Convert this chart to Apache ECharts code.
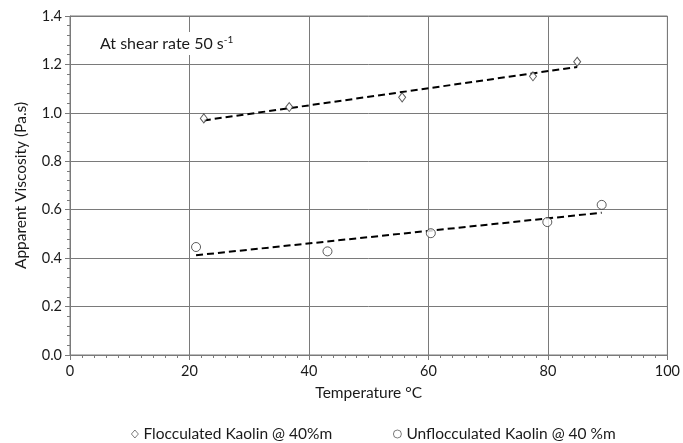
<!DOCTYPE html>
<html><head><meta charset="utf-8">
<script src="https://cdn.jsdelivr.net/npm/echarts@6/dist/echarts.min.js"></script>
<style>html,body{margin:0;padding:0;background:#fff}#c{width:683px;height:443px}</style>
</head><body><div id="c"></div>
<script>
const flocT = [22.4, 36.7, 55.6, 77.5, 84.9];
const flocV = [0.977, 1.024, 1.064, 1.151, 1.211];
const unflocT = [21.1, 43.1, 60.4, 79.9, 89.0];
const unflocV = [0.446, 0.428, 0.503, 0.549, 0.620];
const xTicks = [0, 20, 40, 60, 80, 100];
const yTicks = [0, 0.2, 0.4, 0.6, 0.8, 1.0, 1.2, 1.4];
const nameFloc = 'Flocculated Kaolin @ 40%m';
const nameUnfloc = 'Unflocculated Kaolin @ 40 %m';

function pairs(xs, ys) { return xs.map((x, i) => [x, ys[i]]); }
function trend(xs, ys) {
  const n = xs.length;
  const mx = xs.reduce((a, b) => a + b, 0) / n;
  const my = ys.reduce((a, b) => a + b, 0) / n;
  let sxy = 0, sxx = 0;
  for (let i = 0; i < n; i++) { sxy += (xs[i] - mx) * (ys[i] - my); sxx += (xs[i] - mx) ** 2; }
  const b = sxy / sxx, a = my - b * mx;
  const x0 = Math.min(...xs), x1 = Math.max(...xs);
  return [[x0, a + b * x0], [x1, a + b * x1]];
}
const FONT = 'Lato';
const gridCol = '#7a7a7a';
const txt = '#1a1a1a';
const chart = echarts.init(document.getElementById('c'), null, {renderer: 'canvas'});
chart.setOption({
  animation: false,
  textStyle: {fontFamily: FONT},
  grid: {left: 70, right: 13, top: 16, bottom: 88, show: true, borderColor: gridCol, borderWidth: 1},
  title: {
    text: 'At shear rate 50 s{sup|-1}',
    left: 96, top: 32, padding: [3, 4], backgroundColor: '#fff',
    textStyle: {fontFamily: FONT, fontSize: 16, fontWeight: 'normal', color: txt,
      rich: {sup: {fontFamily: FONT, fontSize: 10, verticalAlign: 'top', padding: [0,0,8,0], color: txt}}}
  },
  xAxis: {
    type: 'value', min: 0, max: 100, interval: 20,
    name: 'Temperature °C', nameLocation: 'middle', nameGap: 30,
    nameTextStyle: {fontFamily: FONT, fontSize: 15.5, color: txt},
    axisLine: {show: true, lineStyle: {color: gridCol, width: 1}},
    axisTick: {show: true, inside: false, length: 5, lineStyle: {color: gridCol}},
    minorTick: {show: true, splitNumber: 10, length: 3, lineStyle: {color: gridCol}},
    axisLabel: {fontFamily: FONT, fontSize: 14.5, color: txt, margin: 9,
      formatter: v => xTicks.includes(v) ? String(v) : ''},
    splitLine: {show: true, lineStyle: {color: gridCol, width: 1}}
  },
  yAxis: {
    type: 'value', min: 0, max: 1.4, interval: 0.2,
    name: 'Apparent Viscosity (Pa.s)', nameLocation: 'middle', nameGap: 41, nameRotate: 90,
    nameTextStyle: {fontFamily: FONT, fontSize: 15.5, color: txt},
    axisLine: {show: true, lineStyle: {color: gridCol, width: 1}},
    axisTick: {show: true, inside: false, length: 5, lineStyle: {color: gridCol}},
    minorTick: {show: true, splitNumber: 5, length: 3, lineStyle: {color: gridCol}},
    axisLabel: {fontFamily: FONT, fontSize: 14.5, color: txt, margin: 8,
      formatter: v => yTicks.some(t => Math.abs(t - v) < 1e-9) ? v.toFixed(1) : ''},
    splitLine: {show: true, lineStyle: {color: gridCol, width: 1}}
  },
  legend: [
    {data: [nameFloc], left: 126, top: 421, itemWidth: 7, itemHeight: 8, itemGap: 4,
      itemStyle: {borderWidth: 0.8}, textStyle: {fontFamily: FONT, fontSize: 15.5, color: txt}},
    {data: [nameUnfloc], left: 388, top: 421, itemWidth: 8, itemHeight: 8, itemGap: 4,
      itemStyle: {borderWidth: 0.8}, textStyle: {fontFamily: FONT, fontSize: 15.5, color: txt}}
  ],
  series: [
    {name: 'trendF', type: 'line', data: trend(flocT, flocV), symbol: 'none', silent: true,
      lineStyle: {color: '#000', width: 2, type: [7, 4]}, z: 2},
    {name: 'trendU', type: 'line', data: trend(unflocT, unflocV), symbol: 'none', silent: true,
      lineStyle: {color: '#000', width: 2, type: [7, 4]}, z: 2},
    {name: nameFloc, type: 'scatter', data: pairs(flocT, flocV), symbol: 'diamond', symbolSize: [7, 9],
      itemStyle: {color: '#fff', borderColor: '#333', borderWidth: 1}, z: 3},
    {name: nameUnfloc, type: 'scatter', data: pairs(unflocT, unflocV), symbol: 'circle', symbolSize: 9,
      itemStyle: {color: '#fff', borderColor: '#333', borderWidth: 1}, z: 3}
  ]
});
</script></body></html>
